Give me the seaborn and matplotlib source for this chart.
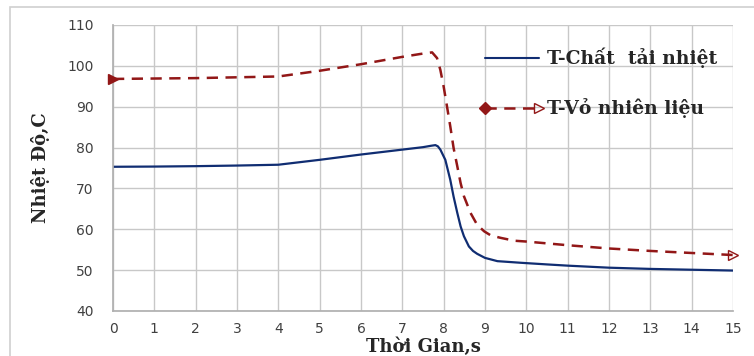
import numpy as np
import pandas as pd
import matplotlib
matplotlib.use("Agg")
import matplotlib.pyplot as plt
import seaborn as sns
from matplotlib.lines import Line2D
from matplotlib.legend_handler import HandlerBase
from matplotlib.patches import Rectangle

# ---- data ----
t_coolant = [0, 1, 2, 3, 4, 5, 6, 7, 7.5, 7.7, 7.8, 7.86, 7.92, 8.04, 8.16, 8.24, 8.33, 8.41, 8.49, 8.61, 8.71, 8.81, 9.0, 9.3, 9.87, 10.5, 11, 12, 13, 14, 15]
T_coolant = [75.3, 75.35, 75.45, 75.6, 75.8, 77.0, 78.3, 79.5, 80.1, 80.45, 80.6, 80.3, 79.5, 77.0, 72.1, 68.0, 64.0, 60.7, 58.3, 55.8, 54.7, 54.0, 53.0, 52.2, 51.8, 51.4, 51.1, 50.6, 50.3, 50.1, 49.9]

t_clad = [0, 1, 2, 3, 4, 5, 6, 7, 7.43, 7.72, 7.84, 7.92, 8.0, 8.08, 8.16, 8.24, 8.33, 8.41, 8.49, 8.65, 8.81, 8.98, 9.14, 9.38, 9.71, 10, 11, 12, 13, 14, 15]
T_clad = [96.8, 96.9, 97.0, 97.2, 97.4, 98.8, 100.4, 102.2, 102.9, 103.3, 101.9, 99.0, 94.9, 90.1, 85.2, 79.9, 75.4, 71.3, 68.1, 64.0, 61.1, 59.5, 58.5, 57.9, 57.2, 57.0, 56.1, 55.3, 54.7, 54.2, 53.7]

x_ticks = list(range(0, 16))
y_ticks = [40, 50, 60, 70, 80, 90, 100, 110]
label_coolant = "T-Chất  tải nhiệt"
label_clad = "T-Vỏ nhiên liệu"
xlabel = "Thời Gian,s"
ylabel = "Nhiệt Độ,C"

BLUE = "#102d72"
RED = "#921717"
SERIF = ["DejaVu Serif"]

sns.set_theme(style="whitegrid")
plt.rcParams["font.family"] = ["DejaVu Sans"]

fig = plt.figure(figsize=(7.54, 3.56), dpi=100)
# outer frame
fig.patches.append(Rectangle((10 / 754, -0.05), 1.1, 1 - 7 / 356 + 0.05, transform=fig.transFigure,
                             fill=False, edgecolor="#d0d0d0", linewidth=1.2, zorder=0))
ax = fig.add_axes([113 / 754, 1 - 311 / 356, 620 / 754, 286 / 356])

df1 = pd.DataFrame({"t": t_coolant, "T": T_coolant})
df2 = pd.DataFrame({"t": t_clad, "T": T_clad})
sns.lineplot(data=df1, x="t", y="T", ax=ax, color=BLUE, linewidth=1.6, sort=False)
sns.lineplot(data=df2, x="t", y="T", ax=ax, color=RED, linewidth=1.8, sort=False)
ax.lines[-1].set_dashes([4.5, 3])
# end markers for the clad curve
ax.plot([t_clad[0]], [T_clad[0]], marker=">", color=RED, markersize=7, linestyle="none", clip_on=False, zorder=5)
ax.plot([t_clad[-1]], [T_clad[-1]], marker=">", markerfacecolor="none", markeredgecolor=RED,
        markersize=7, linestyle="none", clip_on=False, zorder=5)

ax.set_xlim(0, 15)
ax.set_ylim(40, 110)
ax.set_xticks(x_ticks)
ax.set_yticks(y_ticks)
ax.grid(True, color="#c8c8c8", linewidth=1)
for s in ax.spines.values():
    s.set_visible(False)
ax.spines["left"].set_visible(True)
ax.spines["bottom"].set_visible(True)
ax.spines["left"].set_color("#b0b0b0")
ax.spines["bottom"].set_color("#b0b0b0")
ax.tick_params(axis="both", length=0, labelsize=10, labelcolor="#404040")
ax.tick_params(axis="x", pad=8)
ax.tick_params(axis="y", pad=14)

ax.set_xlabel(xlabel, fontsize=13, fontweight="bold", family=SERIF, labelpad=1)
ax.set_ylabel(ylabel, fontsize=13, fontweight="bold", family=SERIF, labelpad=12)


class DiamondArrowHandler(HandlerBase):
    def create_artists(self, legend, orig_handle, xdescent, ydescent, width, height, fontsize, trans):
        y = height / 2 - ydescent
        x0, x1 = -xdescent, width - xdescent
        line = Line2D([x0, x1], [y, y], color=RED, linewidth=1.8, linestyle=(0, (4.5, 3)))
        d = Line2D([x0], [y], marker="D", color=RED, markersize=6, linestyle="none")
        a = Line2D([x1], [y], marker=">", markerfacecolor="none", markeredgecolor=RED, markersize=7, linestyle="none")
        for art in (line, d, a):
            art.set_transform(trans)
        return [line, d, a]


h1 = Line2D([], [], color=BLUE, linewidth=1.5)
h2 = Line2D([], [], color=RED)
leg = ax.legend([h1, h2], [label_coolant, label_clad], handler_map={h2: DiamondArrowHandler()},
                loc="upper left", bbox_to_anchor=(0.6, 0.92), frameon=False,
                prop={"family": SERIF, "weight": "bold", "size": 13.5},
                handlelength=2.9, handletextpad=0.4, labelspacing=1.6, borderpad=0, borderaxespad=0)

fig.savefig("out.png", dpi=100)
